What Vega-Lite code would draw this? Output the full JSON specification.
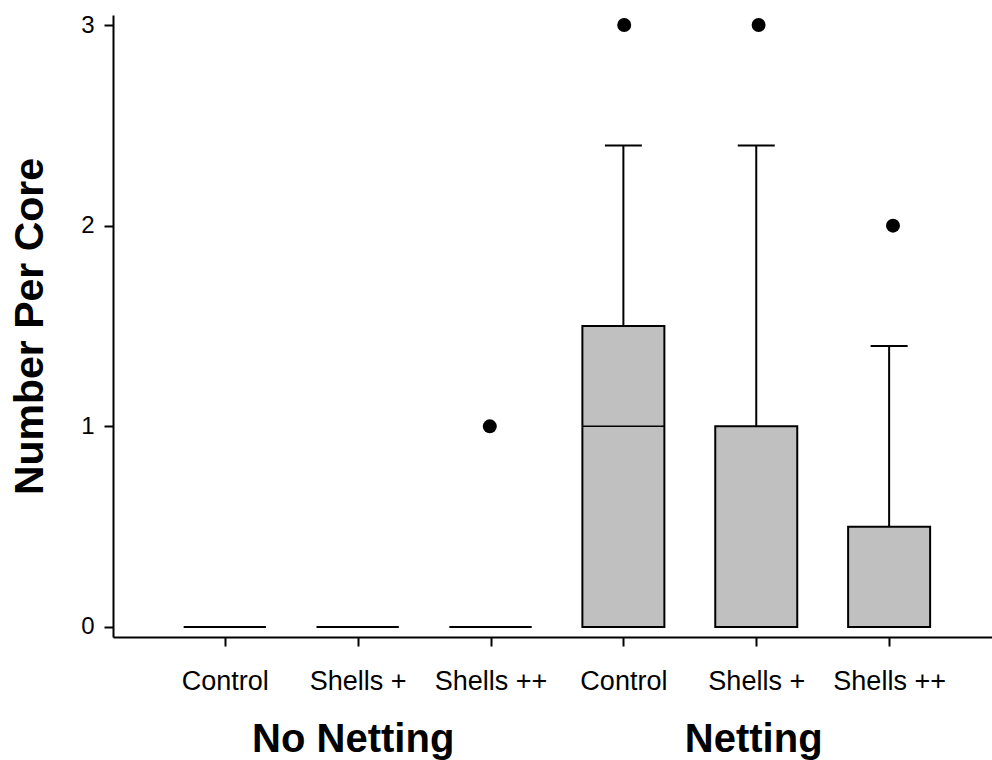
{
  "$schema": "https://vega.github.io/schema/vega-lite/v6.json",
  "width": 879,
  "height": 622,
  "autosize": {"type": "none"},
  "padding": {"left": 113, "top": 15, "right": 0, "bottom": 123},
  "background": "white",
  "config": {
    "view": {"stroke": null},
    "font": "Liberation Sans",
    "axis": {"grid": false, "domainColor": "black", "tickColor": "black", "labelColor": "black", "titleColor": "black", "labelLimit": 0}
  },
  "datasets": {
    "boxes": [
      {"pos": 1, "netting": "No Netting", "treatment": "Control", "low": 0, "q1": 0, "median": 0, "q3": 0, "high": 0},
      {"pos": 2, "netting": "No Netting", "treatment": "Shells +", "low": 0, "q1": 0, "median": 0, "q3": 0, "high": 0},
      {"pos": 3, "netting": "No Netting", "treatment": "Shells ++", "low": 0, "q1": 0, "median": 0, "q3": 0, "high": 0},
      {"pos": 4, "netting": "Netting", "treatment": "Control", "low": 0, "q1": 0, "median": 1, "q3": 1.5, "high": 2.4},
      {"pos": 5, "netting": "Netting", "treatment": "Shells +", "low": 0, "q1": 0, "median": 0, "q3": 1, "high": 2.4},
      {"pos": 6, "netting": "Netting", "treatment": "Shells ++", "low": 0, "q1": 0, "median": 0, "q3": 0.5, "high": 1.4}
    ],
    "outliers": [
      {"pos": 3, "netting": "No Netting", "treatment": "Shells ++", "value": 1},
      {"pos": 4, "netting": "Netting", "treatment": "Control", "value": 3},
      {"pos": 5, "netting": "Netting", "treatment": "Shells +", "value": 3},
      {"pos": 6, "netting": "Netting", "treatment": "Shells ++", "value": 2}
    ]
  },
  "layer": [
    {
      "data": {"name": "boxes"},
      "encoding": {
        "x": {
          "field": "pos",
          "type": "quantitative",
          "scale": {"domain": [0.1964, 6.7366], "nice": false, "zero": false},
          "axis": {
            "orient": "bottom",
            "title": null,
            "values": [1, 2, 3, 4, 5, 6],
            "labelExpr": "['Control','Shells +','Shells ++','Control','Shells +','Shells ++'][datum.value - 1]",
            "labelFontSize": 27,
            "labelPadding": 22,
            "labelAngle": 0,
            "labelFlush": false,
            "labelOverlap": false,
            "labelLimit": 0,
            "tickSize": 9,
            "tickWidth": 2,
            "domainWidth": 2
          }
        }
      },
      "layer": [
        {
          "mark": {"type": "rule", "stroke": "black", "strokeWidth": 2},
          "encoding": {
            "y": {
              "field": "low",
              "type": "quantitative",
              "scale": {"domain": [-0.05, 3.05], "nice": false, "zero": false},
              "axis": {
                "title": "Number Per Core",
                "values": [0, 1, 2, 3],
                "format": "d",
                "labelFontSize": 24,
                "labelPadding": 10,
                "tickSize": 9,
                "tickWidth": 2,
                "domainWidth": 2,
                "titleFontSize": 41,
                "titleFontWeight": "bold",
                "titlePadding": 29
              }
            },
            "y2": {"field": "high"}
          }
        },
        {
          "mark": {"type": "bar", "width": 82, "fill": "#c0c0c0", "stroke": "black", "strokeWidth": 2},
          "encoding": {
            "y": {"field": "q1", "type": "quantitative", "axis": {"title": "Number Per Core"}},
            "y2": {"field": "q3"}
          }
        },
        {
          "mark": {"type": "tick", "orient": "horizontal", "size": 82, "thickness": 1.5, "color": "black", "opacity": 1},
          "encoding": {
            "y": {"field": "median", "type": "quantitative", "axis": {"title": "Number Per Core"}}
          }
        },
        {
          "mark": {"type": "tick", "orient": "horizontal", "size": 37, "thickness": 2, "color": "black", "opacity": 1},
          "encoding": {
            "y": {"field": "low", "type": "quantitative", "axis": {"title": "Number Per Core"}}
          }
        },
        {
          "mark": {"type": "tick", "orient": "horizontal", "size": 37, "thickness": 2, "color": "black", "opacity": 1},
          "encoding": {
            "y": {"field": "high", "type": "quantitative", "axis": {"title": "Number Per Core"}}
          }
        }
      ]
    },
    {
      "data": {"name": "outliers"},
      "mark": {"type": "point", "filled": true, "color": "black", "size": 195, "opacity": 1},
      "encoding": {
        "x": {
          "field": "pos",
          "type": "quantitative",
          "scale": {"domain": [0.1964, 6.7366], "nice": false, "zero": false},
          "axis": {
            "orient": "bottom",
            "title": null,
            "values": [1.98, 4.96],
            "labelExpr": "datum.value < 3 ? 'No Netting' : 'Netting'",
            "labelFontSize": 40,
            "labelFontWeight": "bold",
            "labelPadding": 82,
            "labelAngle": 0,
            "labelFlush": false,
            "labelOverlap": false,
            "labelLimit": 0,
            "domain": false,
            "ticks": false,
            "tickSize": 0
          }
        },
        "y": {"field": "value", "type": "quantitative", "axis": {"title": "Number Per Core"}}
      }
    }
  ],
  "resolve": {"scale": {"x": "independent"}}
}
